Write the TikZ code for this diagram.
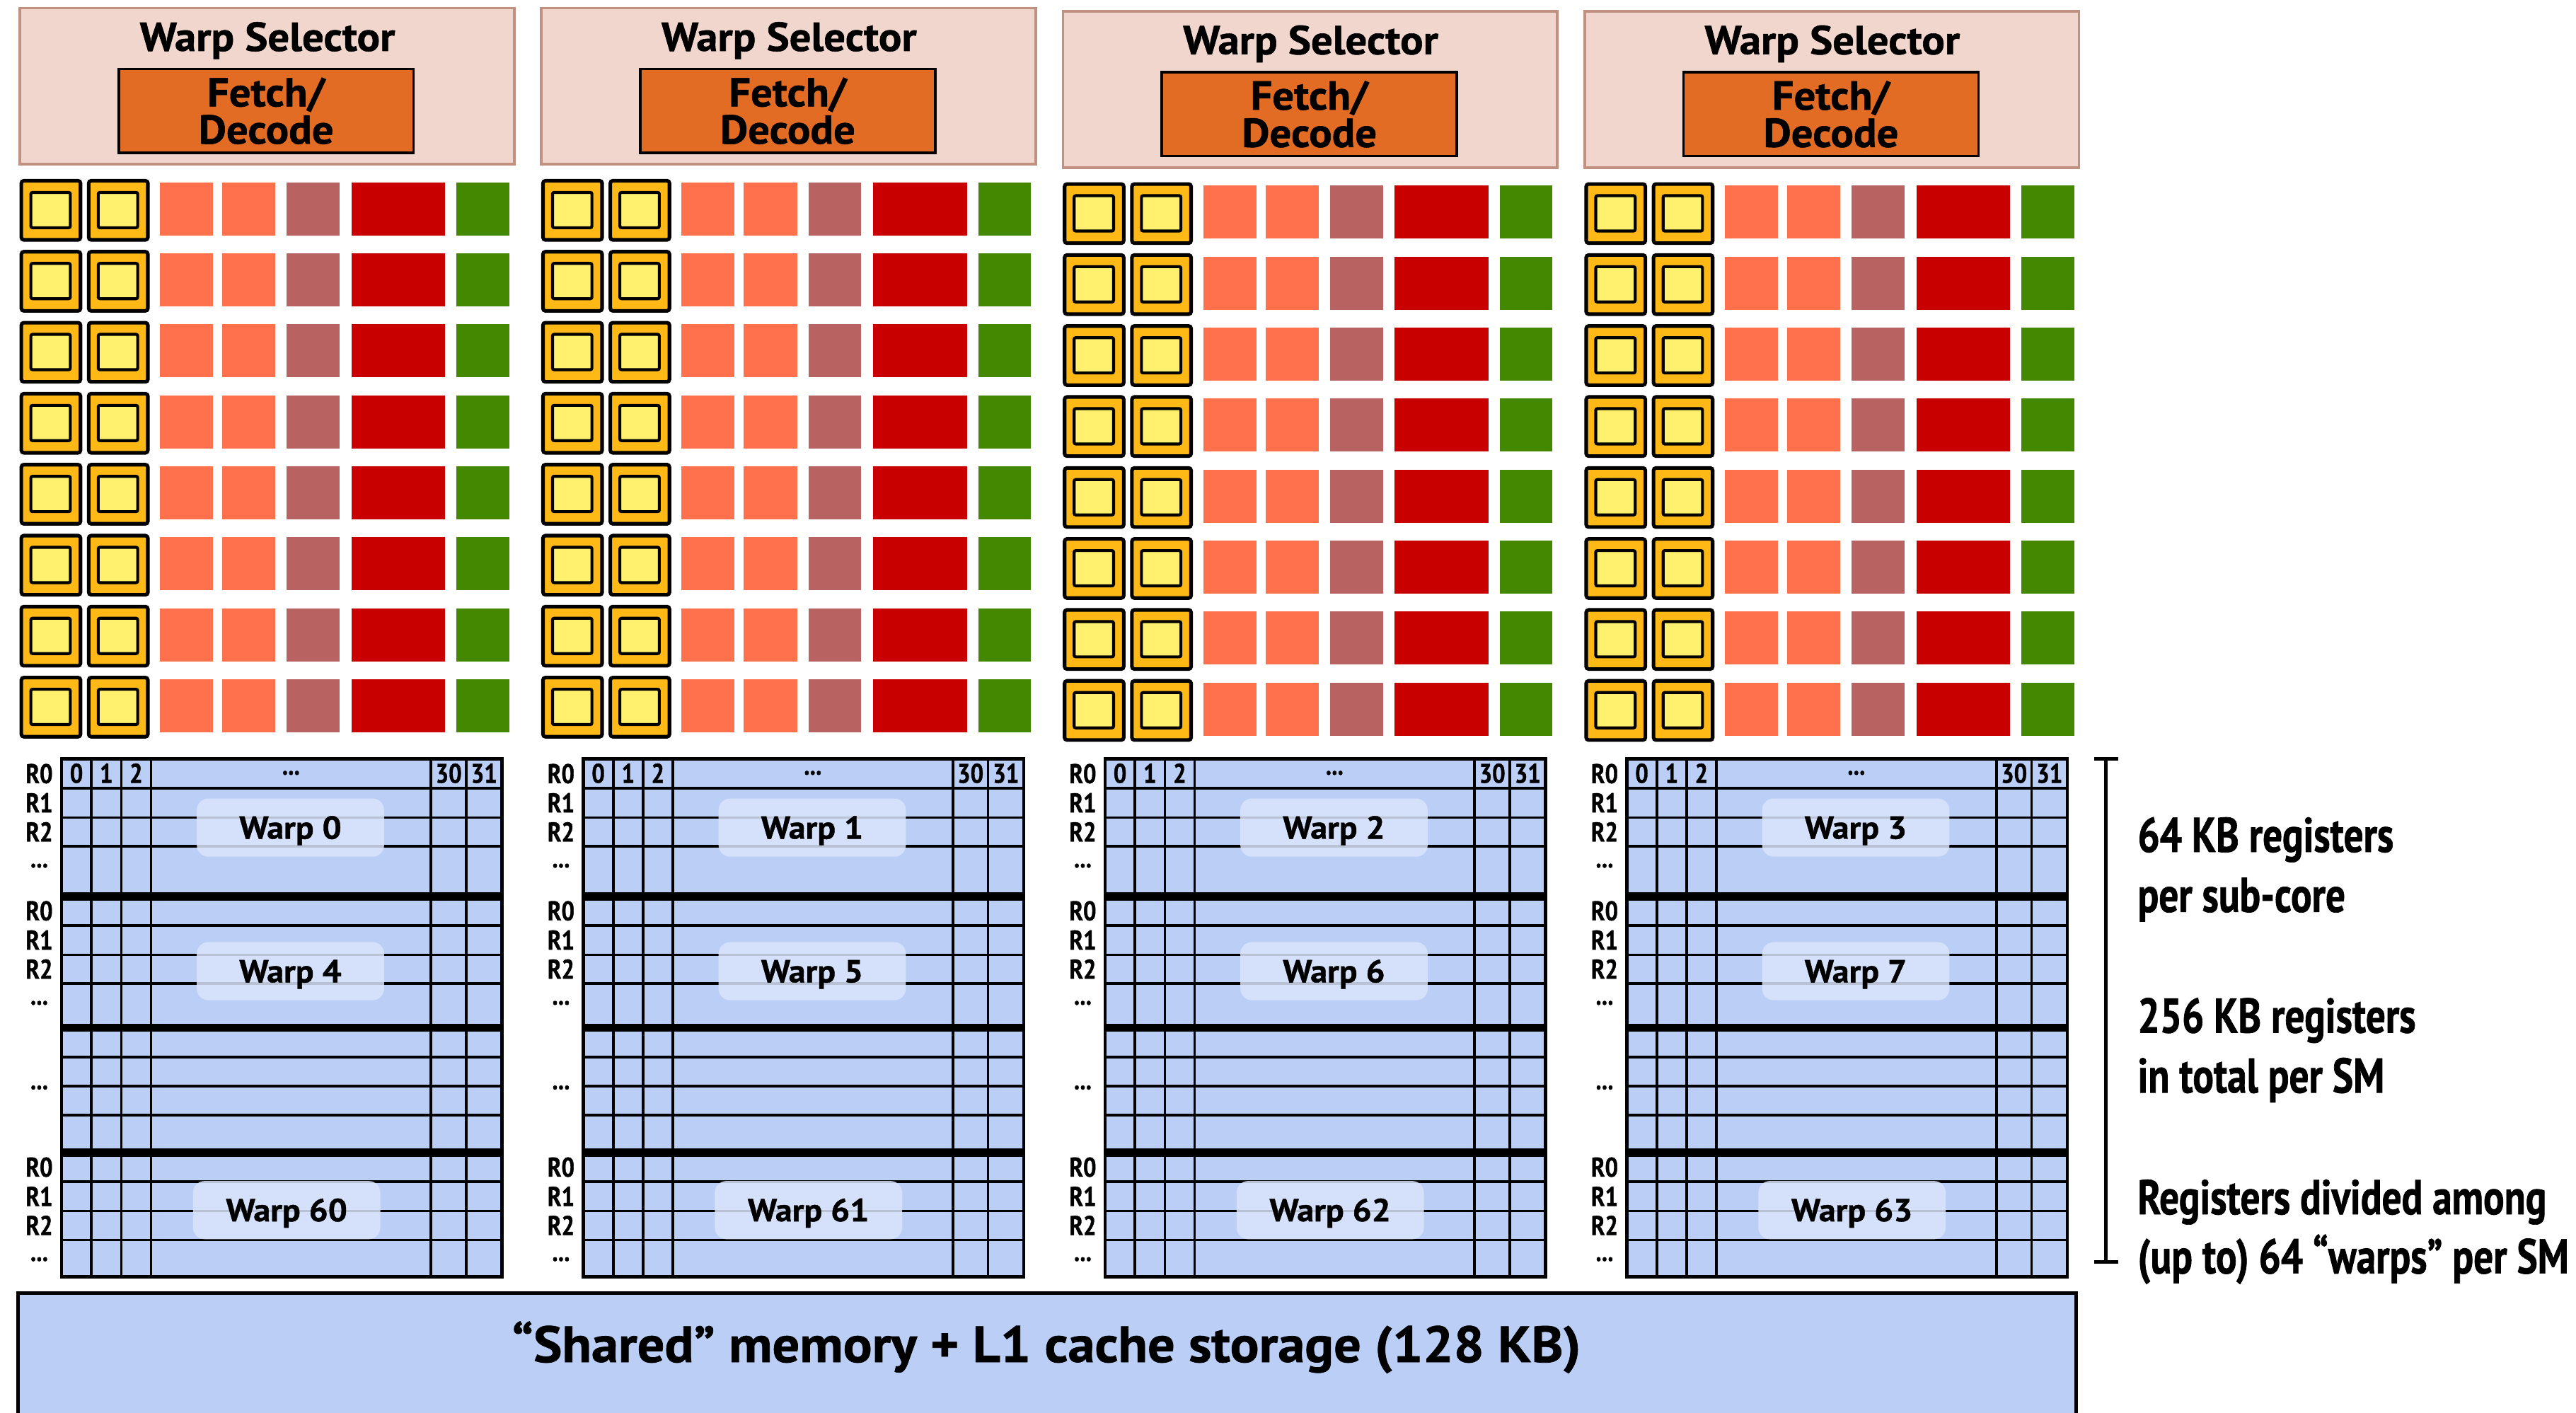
\documentclass[tikz,border=0pt]{standalone}
\usepackage{fontspec}
\setmainfont{PT Sans}
\newfontfamily\widefont{PT Sans}[FakeStretch=1.06, BoldFeatures={FakeBold=1}]
\newfontfamily\narrowfont{PT Sans}[FakeStretch=0.8, BoldFeatures={FakeBold=1}]
\newfontfamily\regfont{PT Sans}[FakeStretch=0.85, BoldFeatures={FakeBold=1}]

\definecolor{selfill}{RGB}{241,214,205}
\definecolor{seldraw}{RGB}{192,144,128}
\definecolor{fetchfill}{RGB}{227,108,36}
\definecolor{coreout}{RGB}{254,185,22}
\definecolor{corein}{RGB}{255,240,110}
\definecolor{aluorange}{RGB}{255,112,77}
\definecolor{alumauve}{RGB}{185,98,98}
\definecolor{alured}{RGB}{200,0,0}
\definecolor{alugreen}{RGB}{67,136,0}
\definecolor{regblue}{RGB}{187,206,245}
\definecolor{warpfill}{RGB}{218,228,251}

\begin{document}
\begin{tikzpicture}[x=1pt, y=-1pt,
    selbox/.style={draw=seldraw, fill=selfill, line width=1.6pt, minimum width=301pt, minimum height=95pt, inner sep=0pt},
    titletxt/.style={inner sep=0pt, font=\widefont\bfseries\fontsize{24.6}{24.6}\selectfont},
    fetchbox/.style={draw=black, fill=fetchfill, line width=1.6pt, minimum width=179.5pt, minimum height=51pt, inner sep=0pt, align=center, font=\widefont\bfseries\fontsize{24.6}{22.7}\selectfont},
    coreunit/.style={draw=black, fill=coreout, line width=2.2pt, rounded corners=1.5pt},
    coreinner/.style={draw=black, fill=corein, line width=1.8pt, rounded corners=1pt},
    gridline/.style={draw=black, line width=1.6pt},
    gridthick/.style={draw=black, line width=5pt},
    regtxt/.style={inner sep=0pt, text height=11.5pt, text depth=0pt, font=\regfont\bfseries\fontsize{16.5}{16.5}\selectfont},
    warptag/.style={fill=warpfill, fill opacity=0.85, text opacity=1, rounded corners=7pt, minimum width=114pt, minimum height=35.4pt, inner sep=0pt, text height=13.6pt, text depth=0pt, font=\widefont\bfseries\fontsize{19.4}{19.4}\selectfont},
    shmem/.style={draw=black, fill=regblue, line width=2pt, minimum width=1252.6pt, minimum height=114pt, inner sep=0pt},
    memtxt/.style={inner sep=0pt, font=\widefont\bfseries\fontsize{31}{31}\selectfont},
    note/.style={inner sep=0pt, font=\narrowfont\bfseries\fontsize{29.7}{29.7}\selectfont},
    bracket/.style={draw=black, line width=2.2pt}]

    \useasboundingbox (0,0) rectangle (1568,860);

    % sub-core front ends and execution units
    \foreach \c/\dy in {0/0,1/0,2/2,3/2}{
        \pgfmathsetmacro\hx{12+317.5*\c}
        \node[selbox] (ws\c) at (\hx+150.5,52.5+\dy) {};
        \node[titletxt, anchor=base] (wst\c) at (\hx+150.8,31+\dy) {Warp Selector};
        \node[fetchbox] (fd\c) at (\hx+150,67.5+\dy) {Fetch/\\Decode};
        \foreach \r in {0,...,7}{
            \pgfmathsetmacro\ty{110+43.2*\r+\dy}
            \foreach \k in {0,1}{
                \draw[coreunit] (\hx+1+41*\k,\ty) rectangle ++(36,36);
                \draw[coreinner] (\hx+6.8+41*\k,\ty+7.1) rectangle ++(24,21.5);
            }
            \fill[aluorange] (\hx+85.4,\ty+1) rectangle ++(32.3,32.3);
            \fill[aluorange] (\hx+123.3,\ty+1) rectangle ++(32.4,32.3);
            \fill[alumauve] (\hx+162.6,\ty+1) rectangle ++(32.1,32.3);
            \fill[alured] (\hx+202,\ty+1) rectangle ++(57,32.3);
            \fill[alugreen] (\hx+265.9,\ty+1) rectangle ++(32.1,32.3);
        }
    }

    % register files
    \foreach \c in {0,...,3}{
        \pgfmathsetmacro\gx{37.4+317.6*\c}
        \fill[regblue] (\gx,462) rectangle ++(268.2,315);
        \foreach \b in {462,545.5,625.5,701.5}
            \foreach \o in {17.8,35.6,53.2}
                \draw[gridline] (\gx,\b+\o) -- ++(268.2,0);
        \foreach \b in {545.5,625.5,701.5}
            \draw[gridthick] (\gx,\b) -- ++(268.2,0);
        \foreach \v in {18.3,36.4,54.5,225,246.4}
            \draw[gridline] (\gx+\v,462) -- ++(0,315);
        \draw[gridline, line width=2pt] (\gx,462) rectangle ++(268.2,315);
        % lanes
        \foreach \v/\t in {9.15/0,27.35/1,45.45/2,235.7/30,257.3/31}
            \node[regtxt] (lane\c-\t) at (\gx+\v,470.7) {\t};
        \node[regtxt, anchor=base] (lanedots\c) at (\gx+139.75,471.5) {...};
        % register names
        \foreach \b/\n in {462/0,545.5/1,701.5/3}{
            \foreach \o/\t in {8.9/R0,26.7/R1,44.4/R2}
                \node[regtxt] (reg\c-\n-\t) at (\gx-13.5,\b+\o) {\t};
            \node[regtxt, anchor=base] (regdots\c-\n) at (\gx-13.5,\b+66) {...};
        }
        \node[regtxt, anchor=base] (regdots\c-2) at (\gx-13.5,663) {...};
        % warps
        \pgfmathtruncatemacro\wb{\c+4}
        \pgfmathtruncatemacro\wc{\c+60}
        \node[warptag] (warp\c) at (\gx+139.4,503.7) {Warp \c};
        \node[warptag] (warp\wb) at (\gx+139.4,591.1) {Warp \wb};
        \node[warptag] (warp\wc) at (\gx+137.1,736.5) {Warp \wc};
    }

    % shared memory
    \node[shmem, anchor=north west] (smem) at (10,786) {};
    \node[memtxt, anchor=base] (smemtxt) at ([xshift=-0.3pt, yshift=-43pt]smem.north) {“Shared” memory + L1 cache storage (128 KB)};

    % register size notes
    \coordinate (brtop) at (1282,462);
    \coordinate (brbot) at (1282,768);
    \draw[bracket] (brtop) -- (brbot);
    \draw[bracket] ([xshift=-7.5pt]brtop) -- ([xshift=7.5pt]brtop);
    \draw[bracket] ([xshift=-7.5pt]brbot) -- ([xshift=7.5pt]brbot);
    \node[note, anchor=base west] (note1) at (1301,518.5) {64 KB registers};
    \node[note, anchor=base west] (note2) at (1301,555) {per sub-core};
    \node[note, anchor=base west] (note3) at (1301,628.5) {256 KB registers};
    \node[note, anchor=base west] (note4) at (1301,665) {in total per SM};
    \node[note, anchor=base west] (note5) at (1301,739) {Registers divided among};
    \node[note, anchor=base west] (note6) at (1301,775) {(up to) 64 “warps” per SM};
\end{tikzpicture}
\end{document}
